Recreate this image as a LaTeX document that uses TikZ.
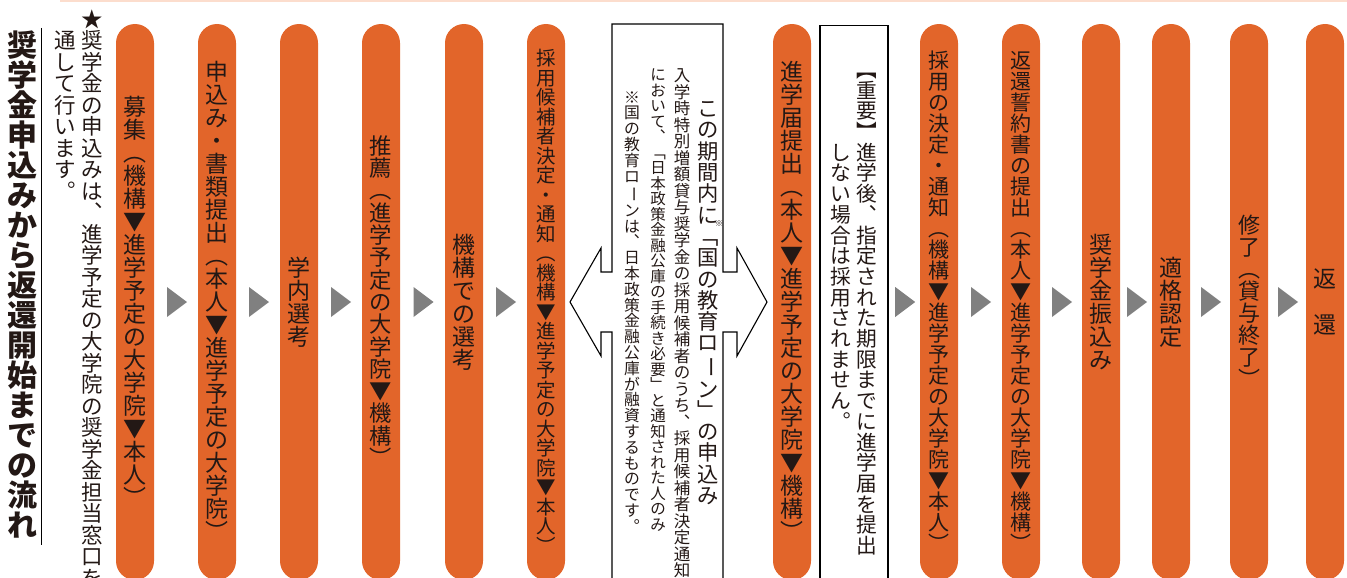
\documentclass[tikz,border=0pt]{standalone}
\usepackage{fontspec}
\usepackage{graphicx}
\usetikzlibrary{calc}
\newfontfamily\jp{Noto Sans CJK JP}
\newcommand\fsz[1]{\fontsize{#1}{#1}\selectfont}
\newcommand\vbar{\rotatebox[origin=c]{-90}{ー}}
% stack the characters of #1 one under the other, 1em apart
\makeatletter
\newcommand\vtxt[1]{\vbox{\offinterlineskip\vt@loop#1\vt@end}}
\def\vt@end{\vt@end}
\def\vt@loop#1{\ifx#1\vt@end\else
  \hbox to 1em{\hss\vrule height .88em depth .12em width 0pt#1\hss}%
  \expandafter\vt@loop\fi}
\makeatother
\definecolor{pillorange}{RGB}{226,101,42}
\definecolor{markgray}{RGB}{128,128,128}
\definecolor{rulepeach}{RGB}{252,221,205}
\definecolor{ink}{RGB}{35,24,21}

\begin{document}
\begin{tikzpicture}[x=1pt,y=-1pt,
    pill/.style={fill=pillorange, rounded corners=19pt, minimum width=38pt,
      minimum height=556pt, inner sep=0pt, text=ink, font=\jp\fsz{23}},
    vcol/.style={inner sep=0pt, text=ink, anchor=north},
    stepmark/.style={fill=markgray}]
    \useasboundingbox (0,0) rectangle (1347,578);
    \clip (0,0) rectangle (1347,578);

    % Draw top rule
    \draw[rulepeach, line width=1.6pt] (60,0.8) -- (1347,0.8);

    % Draw title and note
    \node[vcol, font=\jp\bfseries\fsz{30}] (title) at (23,30) {\vtxt{奨学金申込みから返還開始までの流れ}};
    \draw[line width=1pt] ([xshift=3pt,yshift=2pt]title.north east) -- ([xshift=3pt,yshift=-5pt]title.south east);
    \node[vcol, font=\jp\fsz{21.5}] (note1) at (92,8) {\vtxt{★奨学金の申込みは︑進学予定の大学院の奨学金担当窓口を}};
    \node[vcol, font=\jp\fsz{21.5}] (note2) at (65,29.5) {\vtxt{通して行います︒}};

    % Draw pills
    \node[pill] (p1) at (135,302) {\vtxt{募集︵機構▼進学予定の大学院▼本人︶}};
    \node[pill] (p2) at (217,302) {\vtxt{申込み・書類提出︵本人▼進学予定の大学院︶}};
    \node[pill] (p3) at (299,302) {\vtxt{学内選考}};
    \node[pill, font=\jp\fsz{22.3}] (p4) at (381,302) {\vtxt{推薦︵進学予定の大学院▼機構︶}};
    \node[pill] (p5) at (464,302) {\vtxt{機構での選考}};
    \node[pill, font=\jp\fsz{19.5}] (p6) at (546,302) {\vtxt{採用候補者決定・通知︵機構▼進学予定の大学院▼本人︶}};
    \node[pill] (p7) at (792,302) {\vtxt{進学届提出︵本人▼進学予定の大学院▼機構︶}};
    \node[pill, font=\jp\fsz{21}] (p8) at (939,302) {\vtxt{採用の決定・通知︵機構▼進学予定の大学院▼本人︶}};
    \node[pill, font=\jp\fsz{21}] (p9) at (1021,302) {\vtxt{返還誓約書の提出︵本人▼進学予定の大学院▼機構︶}};
    \node[pill] (p10) at (1101,302) {\vtxt{奨学金振込み}};
    \node[pill] (p11) at (1171,302) {\vtxt{適格認定}};
    \node[pill, font=\jp\fsz{22}] (p12) at (1249,302) {\vtxt{修了︵貸与終了︶}};
    \node[pill] (p13) at (1325,302) {\vtxt{返　還}};

    % Draw gray marks between pills
    \foreach \a/\b in {p1/p2,p2/p3,p3/p4,p4/p5,p5/p6,p8/p9,p9/p10,p10/p11,p11/p12,p12/p13}
      \fill[stepmark] ($(\a.east)!.5!(\b.west)$) ++(-9,-15) -- ++(20,15) -- ++(-20,15) -- cycle;

    % Draw loan box with double arrow
    \draw[line width=1.1pt, line join=miter] (612,600) -- (612,332) -- (601,332) -- (601,356) -- (570,302)
      -- (601,248) -- (601,272) -- (612,272) -- (612,24) -- (723,24) -- (723,272) -- (737,272)
      -- (737,248) -- (767,302) -- (737,356) -- (737,332) -- (723,332) -- (723,600);
    \node[inner sep=0pt, text=ink, font=\jp\fsz{21.3}] (loan1) at (708,302)
      {\vtxt{この期間内に﹁国の教育ロ\vbar ン﹂の申込み}};
    \node[inner sep=0pt, text=ink, font=\jp\fsz{8}] (loanmark) at ($(loan1.north)+(11,126)$) {※};
    \node[vcol, font=\jp\fsz{16.5}] (loan2) at (682,67) {\vtxt{入学時特別増額貸与奨学金の採用候補者のうち︑採用候補者決定通知}};
    \node[vcol, font=\jp\fsz{15.5}] (loan3) at (658,67) {\vtxt{において︑﹁日本政策金融公庫の手続き必要﹂と通知された人のみ}};
    \node[vcol, font=\jp\fsz{15.8}] (loan4) at (632,89) {\vtxt{※国の教育ロ\vbar ンは︑日本政策金融公庫が融資するものです︒}};

    % Draw important box
    \node[draw, line width=1.1pt, minimum width=68pt, minimum height=600pt, anchor=north] (imp) at (854,25) {};
    \node[vcol, font=\jp\fsz{20.7}] (imp1) at (867,59) {\vtxt{︻重要︼進学後︑指定された期限までに進学届を提出}};
    \node[vcol, font=\jp\fsz{20.7}] (imp2) at (841,141.8) {\vtxt{しない場合は採用されません︒}};
    \fill[stepmark] ($(imp.east |- p8.west)!.5!(p8.west)$) ++(-9,-15) -- ++(20,15) -- ++(-20,15) -- cycle;
\end{tikzpicture}
\end{document}
